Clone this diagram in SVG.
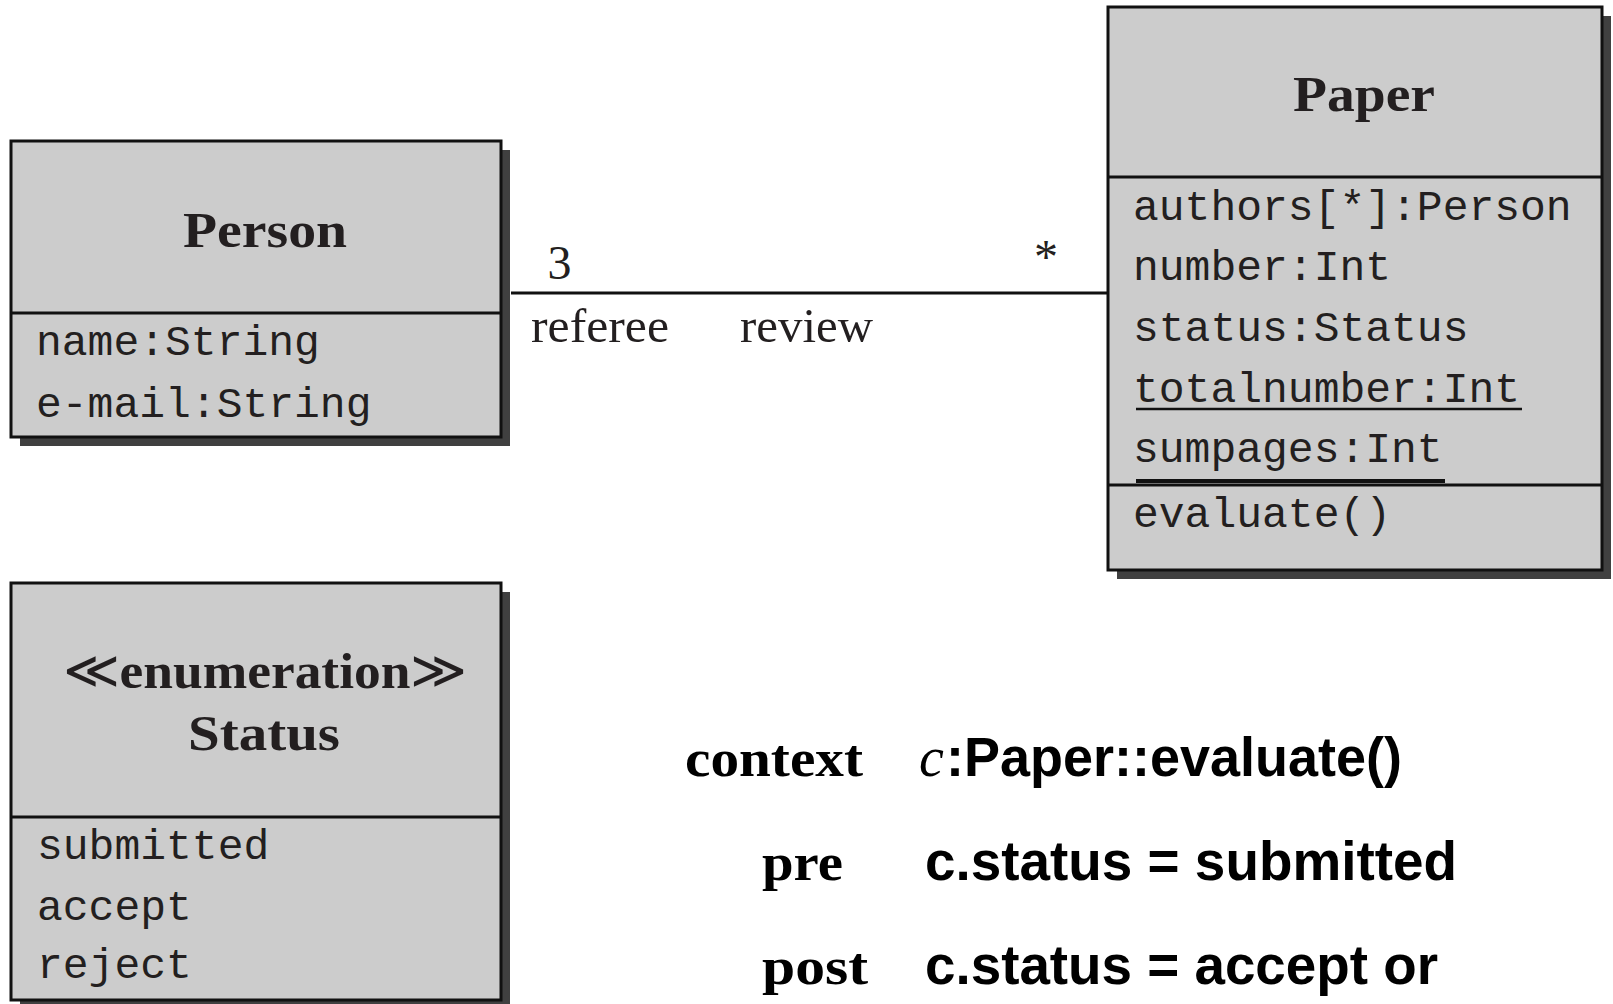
<svg xmlns="http://www.w3.org/2000/svg" width="1613" height="1004" viewBox="0 0 1613 1004">
<style>
.shadow{fill:#404040;stroke:none}
.box{fill:#cccccc;stroke:#111;stroke-width:3}
.div{stroke:#111;stroke-width:3}
.title{font-family:"Liberation Serif",serif;font-weight:bold;font-size:51px;fill:#231f20;text-anchor:middle}
.mono{font-family:"Liberation Mono",monospace;font-size:43px;fill:#231f20}
.lbl{font-family:"Liberation Serif",serif;font-size:48px;fill:#231f20}
.kw{font-family:"Liberation Serif",serif;font-weight:bold;font-size:52px;fill:#000}
.ocl{font-family:"Liberation Sans",sans-serif;font-weight:bold;font-size:56px;fill:#000}
.guil{font-family:"DejaVu Sans",sans-serif;font-weight:200;font-size:52px}
.ul{stroke:#111}
</style>
<rect width="1613" height="1004" fill="#fff"/>
<g id="connectors">
  <line x1="511" y1="293" x2="1108" y2="293" stroke="#111" stroke-width="3"/>
  <text class="lbl" x="559.5" y="279" text-anchor="middle">3</text>
  <text class="lbl" x="531" y="342" textLength="138" lengthAdjust="spacingAndGlyphs">referee</text>
  <text class="lbl" x="740" y="342" textLength="133" lengthAdjust="spacingAndGlyphs">review</text>
  <text class="lbl" x="1046" y="273" text-anchor="middle">*</text>
</g>
<g id="person">
  <rect class="shadow" x="20" y="150" width="490" height="296"/>
  <rect class="box" x="11" y="141" width="490" height="296"/>
  <line class="div" x1="11" y1="313" x2="501" y2="313"/>
  <text class="title" x="265" y="247" textLength="164" lengthAdjust="spacingAndGlyphs">Person</text>
  <text class="mono" x="36" y="355">name:String</text>
  <text class="mono" x="36" y="417">e-mail:String</text>
</g>
<g id="paper">
  <rect class="shadow" x="1117" y="16" width="494" height="563"/>
  <rect class="box" x="1108" y="7" width="494" height="563"/>
  <line class="div" x1="1108" y1="177" x2="1602" y2="177"/>
  <line class="div" x1="1108" y1="485" x2="1602" y2="485"/>
  <text class="title" x="1364" y="111" textLength="142" lengthAdjust="spacingAndGlyphs">Paper</text>
  <text class="mono" x="1133" y="220">authors[*]:Person</text>
  <text class="mono" x="1133" y="280">number:Int</text>
  <text class="mono" x="1133" y="341">status:Status</text>
  <text class="mono" x="1133" y="402">totalnumber:Int</text>
  <line class="ul" x1="1136" y1="409" x2="1522" y2="409" stroke-width="2.5"/>
  <text class="mono" x="1133" y="462">sumpages:Int</text>
  <line class="ul" x1="1136" y1="481" x2="1445" y2="481" stroke-width="4"/>
  <text class="mono" x="1133" y="527">evaluate()</text>
</g>
<g id="status">
  <rect class="shadow" x="20" y="592" width="490" height="417"/>
  <rect class="box" x="11" y="583" width="490" height="417"/>
  <line class="div" x1="11" y1="817" x2="501" y2="817"/>
  <text class="title" x="265" y="688" textLength="404" lengthAdjust="spacingAndGlyphs"><tspan class="guil">≪</tspan>enumeration<tspan class="guil">≫</tspan></text>
  <text class="title" x="264" y="750" textLength="152" lengthAdjust="spacingAndGlyphs">Status</text>
  <text class="mono" x="37" y="859">submitted</text>
  <text class="mono" x="37" y="920">accept</text>
  <text class="mono" x="37" y="978">reject</text>
</g>
<g id="ocl">
  <text class="kw" x="685" y="776" textLength="178" lengthAdjust="spacingAndGlyphs">context</text>
  <text x="919" y="776" font-family="Liberation Serif,serif" font-style="italic" font-size="56" fill="#000">c</text>
  <text class="ocl" x="946" y="776" textLength="456" lengthAdjust="spacingAndGlyphs">:Paper::evaluate()</text>
  <text class="kw" x="762" y="880" textLength="81" lengthAdjust="spacingAndGlyphs">pre</text>
  <text class="ocl" x="925" y="880" textLength="532" lengthAdjust="spacingAndGlyphs">c.status = submitted</text>
  <text class="kw" x="762" y="984" textLength="106" lengthAdjust="spacingAndGlyphs">post</text>
  <text class="ocl" x="925" y="984" textLength="513" lengthAdjust="spacingAndGlyphs">c.status = accept or</text>
</g>
</svg>
